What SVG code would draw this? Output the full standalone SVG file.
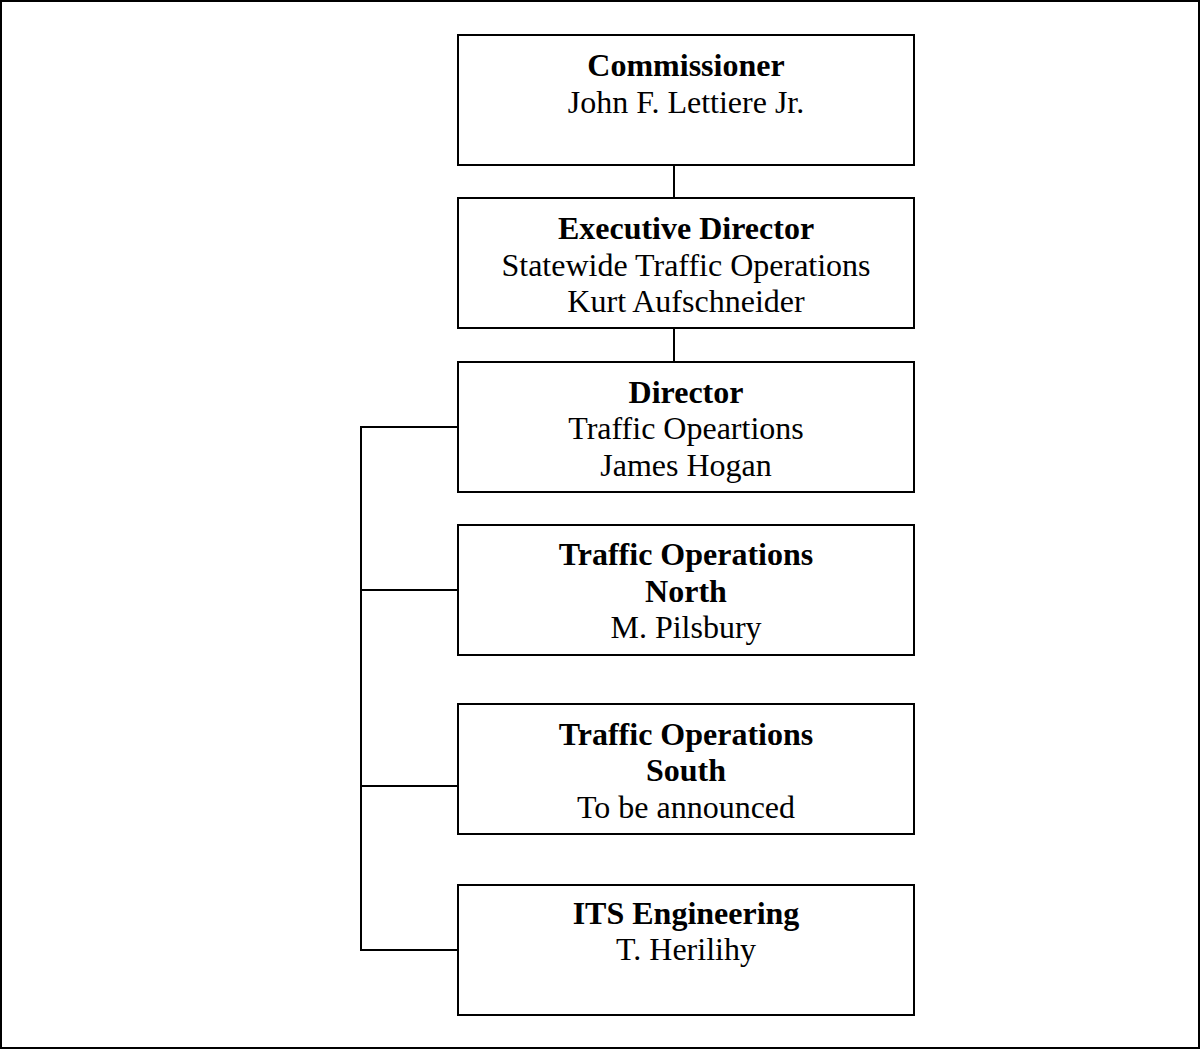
<svg xmlns="http://www.w3.org/2000/svg" width="1201" height="1051" viewBox="0 0 1201 1051">
<style>
.box{fill:#fff;stroke:#000;stroke-width:2}
.ln{fill:none;stroke:#000;stroke-width:2}
text{font-family:"Liberation Serif","Times New Roman",serif;font-size:32px;text-anchor:middle;fill:#000}
.b{font-weight:bold}
</style>
<rect x="1" y="1" width="1198" height="1047" fill="#fff" stroke="#000" stroke-width="2"/>
<g id="connectors">
<line class="ln" x1="674" y1="165" x2="674" y2="198"/>
<line class="ln" x1="674" y1="328" x2="674" y2="362"/>
<polyline class="ln" points="458,427 361,427 361,950 458,950"/>
<line class="ln" x1="361" y1="590" x2="458" y2="590"/>
<line class="ln" x1="361" y1="786" x2="458" y2="786"/>
</g>
<g id="commissioner">
<rect class="box" x="458" y="35" width="456" height="130"/>
<text class="b" x="686" y="76">Commissioner</text>
<text x="686" y="113">John F. Lettiere Jr.</text>
</g>
<g id="executive-director">
<rect class="box" x="458" y="198" width="456" height="130"/>
<text class="b" x="686" y="239">Executive Director</text>
<text x="686" y="276">Statewide Traffic Operations</text>
<text x="686" y="312">Kurt Aufschneider</text>
</g>
<g id="director">
<rect class="box" x="458" y="362" width="456" height="130"/>
<text class="b" x="686" y="403">Director</text>
<text x="686" y="439">Traffic Opeartions</text>
<text x="686" y="476">James Hogan</text>
</g>
<g id="north">
<rect class="box" x="458" y="525" width="456" height="130"/>
<text class="b" x="686" y="565">Traffic Operations</text>
<text class="b" x="686" y="602">North</text>
<text x="686" y="638">M. Pilsbury</text>
</g>
<g id="south">
<rect class="box" x="458" y="704" width="456" height="130"/>
<text class="b" x="686" y="745">Traffic Operations</text>
<text class="b" x="686" y="781">South</text>
<text x="686" y="818">To be announced</text>
</g>
<g id="its">
<rect class="box" x="458" y="885" width="456" height="130"/>
<text class="b" x="686" y="924">ITS Engineering</text>
<text x="686" y="960">T. Herilihy</text>
</g>
</svg>
